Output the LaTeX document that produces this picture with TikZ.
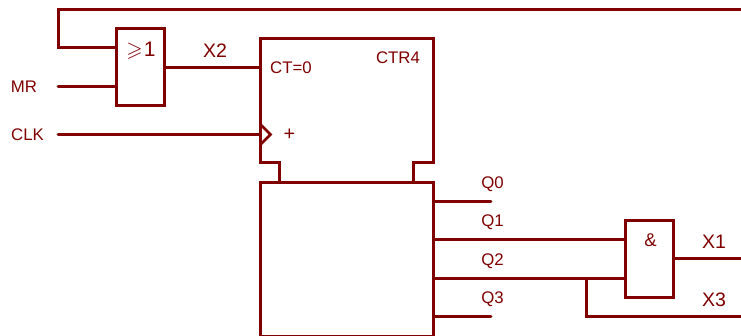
\documentclass[tikz,border=0pt]{standalone}
\usepackage{amssymb}
\usepackage{fontspec}
\setmainfont{Liberation Sans}
\definecolor{wire}{RGB}{128,0,0}
\tikzset{
  wireline/.style={draw=wire,line width=2.8pt,line join=miter},
  gatebox/.style={wireline,rectangle,inner sep=0pt,outer sep=0pt},
  lab/.style={text=wire,font=\fontsize{16.8}{18}\selectfont,inner sep=0pt,anchor=base},
  biglab/.style={text=wire,font=\fontsize{19.5}{21}\selectfont,inner sep=0pt,anchor=base},
}
\begin{document}
\begin{tikzpicture}[x=1pt,y=-1pt]
\useasboundingbox (0,0) rectangle (741,336);
\fill[white] (0,0) rectangle (741,336);
% boxes
\node[gatebox,minimum width=48pt,minimum height=77pt] (org) at (140.5,67) {};
\node[gatebox,minimum width=48pt,minimum height=77pt] (andg) at (649.5,259) {};
\node[gatebox,minimum width=173pt,minimum height=154pt] (reg) at (347,259.5) {};
% counter outline
\coordinate (c1) at (279.5,182.5);
\coordinate (c2) at (279.5,162.5);
\coordinate (c3) at (260.5,162.5);
\coordinate (c4) at (260.5,38.5);
\coordinate (c5) at (433.5,38.5);
\coordinate (c6) at (433.5,162.5);
\coordinate (c7) at (413.5,162.5);
\coordinate (c8) at (413.5,182.5);
\draw[wireline] (c1) -- (c2) -- (c3) -- (c4) -- (c5) -- (c6) -- (c7) -- (c8);
\coordinate (k1) at (260.5,124.5);
\coordinate (k2) at (270.5,134.5);
\coordinate (k3) at (260.5,144.5);
\draw[wireline] (k1) -- (k2) -- (k3);
% free ends
\coordinate (fbE) at (741,9.5);
\coordinate (fbC) at (58.5,9.5);
\coordinate (orA) at (116.5,47.5);
\coordinate (mrS) at (58,86.5);
\coordinate (orB) at (116.5,86.5);
\coordinate (orO) at (164.5,67.5);
\coordinate (ctI) at (260.5,67.5);
\coordinate (clkS) at (58,134.5);
\coordinate (clkE) at (260.5,134.5);
\coordinate (q0a) at (433.5,201.5);
\coordinate (q0b) at (491,201.5);
\coordinate (q1a) at (433.5,239.5);
\coordinate (q1b) at (625.5,239.5);
\coordinate (q2a) at (433.5,278.5);
\coordinate (q2b) at (625.5,278.5);
\coordinate (q3a) at (433.5,316.5);
\coordinate (q3b) at (491,316.5);
\coordinate (x1a) at (673.5,258.5);
\coordinate (x1b) at (741,258.5);
\coordinate (x3a) at (586.5,278.5);
\coordinate (x3b) at (741,316.5);
% wires
\draw[wireline] (fbE) -- (fbC) -- (fbC |- orA) -- (orA);
\draw[wireline,line cap=round] (mrS) -- (orB);
\draw[wireline] (orO) -- (ctI);
\draw[wireline,line cap=round] (clkS) -- (clkE);
\draw[wireline,line cap=round] (q0a) -- (q0b);
\draw[wireline] (q1a) -- (q1b);
\draw[wireline] (q2a) -- (q2b);
\draw[wireline,line cap=round] (q3a) -- (q3b);
\draw[wireline] (x1a) -- (x1b);
\draw[wireline] (x3a) |- (x3b);
% labels
\node[lab] (lmr) at (24,92.8) {MR};
\node[lab] (lclk) at (27.5,140.3) {CLK};
\node[biglab] (lx2) at (215,57.8) {X2};
\node[lab] (lct) at (291,73.8) {CT=0};
\node[lab] (lctr) at (398,63.8) {CTR4};
\node[text=wire,font=\fontsize{20}{22}\selectfont,inner sep=0pt,anchor=base] (lplus) at (289.5,141) {+};
\node[text=wire,font=\fontsize{21}{23}\selectfont,inner sep=0pt,anchor=base] (lge) at (141,56.3) {$\geqslant$\kern1pt 1};
\node[lab] (lq0) at (492.5,188.8) {Q0};
\node[lab] (lq1) at (492.5,226.8) {Q1};
\node[lab] (lq2) at (492.5,265.8) {Q2};
\node[lab] (lq3) at (492.5,303.8) {Q3};
\node[text=wire,font=\fontsize{18.5}{20}\selectfont,inner sep=0pt,anchor=base] (lamp) at (650.5,247) {\&};
\node[biglab] (lx1) at (714,248.5) {X1};
\node[biglab] (lx3) at (714,307) {X3};
\end{tikzpicture}
\end{document}
